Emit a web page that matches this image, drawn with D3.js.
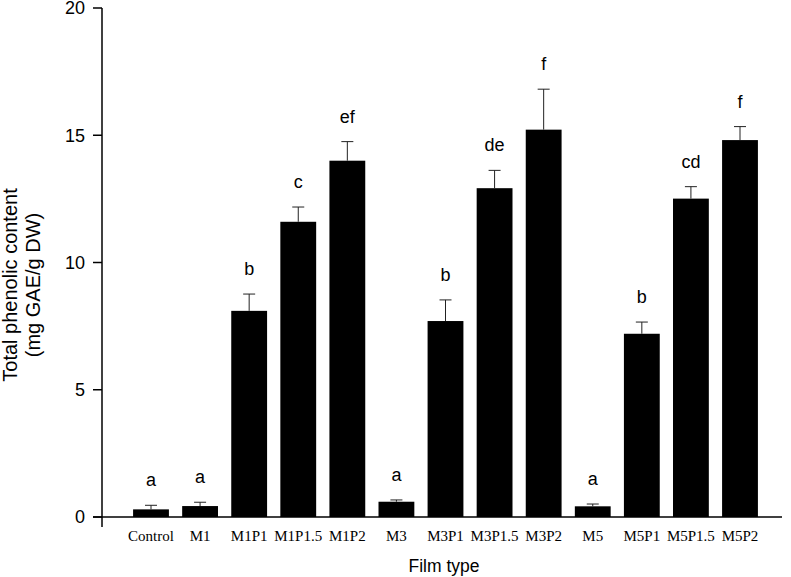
<!DOCTYPE html>
<html>
<head>
<meta charset="utf-8">
<script src="https://cdn.jsdelivr.net/npm/d3@7"></script>
<style>
  body { margin: 0; background: #fff; }
  svg { display: block; }
</style>
</head>
<body>
<svg id="chart" width="791" height="577"></svg>
<script>
// the data
const categories = ["Control", "M1", "M1P1", "M1P1.5", "M1P2", "M3", "M3P1", "M3P1.5", "M3P2", "M5", "M5P1", "M5P1.5", "M5P2"];
const means = [0.30, 0.43, 8.10, 11.60, 14.00, 0.60, 7.70, 12.92, 15.22, 0.42, 7.20, 12.51, 14.81];
const errors = [0.16, 0.15, 0.66, 0.58, 0.75, 0.07, 0.83, 0.70, 1.59, 0.09, 0.46, 0.47, 0.53];
const letters = ["a", "a", "b", "c", "ef", "a", "b", "de", "f", "a", "b", "cd", "f"];
const yTicks = [0, 5, 10, 15, 20];

const rows = categories.map((c, i) => ({ cat: c, mean: means[i], err: errors[i], letter: letters[i] }));

var svg = d3.select("#chart");

const axisLeft = 102,
  axisBottom = 517;

// scales
const x = d3.scalePoint().domain(categories).range([151, 740]);
const barWidth = x.step() * 0.73;
const y = d3.scaleLinear().domain([0, 20]).range([axisBottom, 8]);

// bars
svg
  .append("g")
  .selectAll("rect")
  .data(rows)
  .join("rect")
  .attr("x", (d) => x(d.cat) - barWidth / 2)
  .attr("y", (d) => y(d.mean))
  .attr("width", barWidth)
  .attr("height", (d) => y(0) - y(d.mean))
  .attr("fill", "#000");

// error bars (upper whisker only)
const err = svg.append("g").attr("stroke", "#222").attr("stroke-width", 1);
err
  .selectAll("line.stem")
  .data(rows)
  .join("line")
  .attr("class", "stem")
  .attr("x1", (d) => x(d.cat))
  .attr("x2", (d) => x(d.cat))
  .attr("y1", (d) => y(d.mean))
  .attr("y2", (d) => y(d.mean + d.err));
err
  .selectAll("line.cap")
  .data(rows)
  .join("line")
  .attr("class", "cap")
  .attr("x1", (d) => x(d.cat) - 6)
  .attr("x2", (d) => x(d.cat) + 6)
  .attr("y1", (d) => y(d.mean + d.err))
  .attr("y2", (d) => y(d.mean + d.err));

// significance letters
svg
  .append("g")
  .selectAll("text")
  .data(rows)
  .join("text")
  .attr("x", (d) => x(d.cat))
  .attr("y", (d) => y(d.mean + d.err) - 19)
  .attr("text-anchor", "middle")
  .style("font-family", "Arial, 'Liberation Sans', sans-serif")
  .style("font-size", "18px")
  .text((d) => d.letter);

// y axis
const yAxis = svg.append("g");
yAxis
  .append("line")
  .attr("x1", axisLeft)
  .attr("x2", axisLeft)
  .attr("y1", y(20))
  .attr("y2", axisBottom + 10)
  .attr("stroke", "#000")
  .attr("stroke-width", 1.5);
yAxis
  .selectAll("line.tick")
  .data(yTicks)
  .join("line")
  .attr("class", "tick")
  .attr("x1", axisLeft - 9)
  .attr("x2", axisLeft)
  .attr("y1", (d) => y(d))
  .attr("y2", (d) => y(d))
  .attr("stroke", "#000")
  .attr("stroke-width", 1.5);
yAxis
  .selectAll("text")
  .data(yTicks)
  .join("text")
  .attr("x", axisLeft - 17)
  .attr("y", (d) => y(d))
  .attr("dy", "0.36em")
  .attr("text-anchor", "end")
  .style("font-family", "Arial, 'Liberation Sans', sans-serif")
  .style("font-size", "18px")
  .text((d) => d);

// x axis
svg
  .append("line")
  .attr("x1", axisLeft - 9)
  .attr("x2", 782)
  .attr("y1", axisBottom)
  .attr("y2", axisBottom)
  .attr("stroke", "#000")
  .attr("stroke-width", 1.5);

svg
  .append("g")
  .selectAll("text")
  .data(categories)
  .join("text")
  .attr("x", (d) => x(d))
  .attr("y", 541)
  .attr("text-anchor", "middle")
  .style("font-family", "'Liberation Serif', 'Times New Roman', serif")
  .style("font-size", "15px")
  .text((d) => d);

// axis titles
svg
  .append("text")
  .attr("x", 444)
  .attr("y", 572)
  .attr("text-anchor", "middle")
  .style("font-family", "Arial, 'Liberation Sans', sans-serif")
  .style("font-size", "17.5px")
  .text("Film type");

const yTitle = svg
  .append("text")
  .attr("transform", "translate(16.5,285) rotate(-90)")
  .attr("text-anchor", "middle")
  .style("font-family", "Arial, 'Liberation Sans', sans-serif")
  .style("font-size", "20px");
yTitle.append("tspan").attr("x", 0).attr("y", 0).text("Total phenolic content");
yTitle.append("tspan").attr("x", 0).attr("y", 23.5).text("(mg GAE/g DW)");
</script>
</body>
</html>
